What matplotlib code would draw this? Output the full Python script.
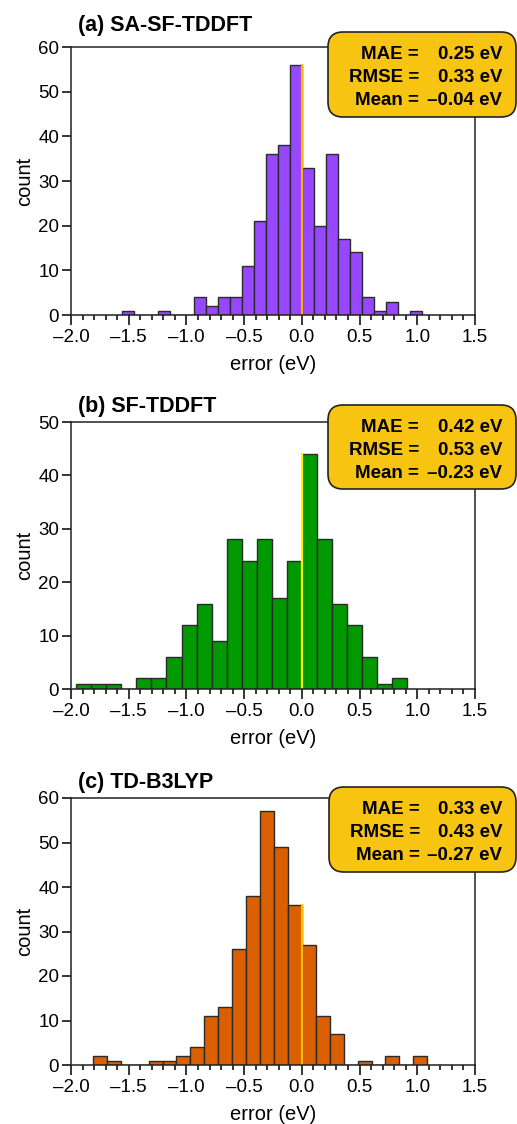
import numpy as np
import matplotlib.pyplot as plt
from matplotlib.patches import FancyBboxPatch
from matplotlib.ticker import MultipleLocator

plt.rcParams['font.family'] = ['Liberation Sans', 'DejaVu Sans']

# histogram data (bin index k -> edge k*width)
titles = ['(a) SA-SF-TDDFT', '(b) SF-TDDFT', '(c) TD-B3LYP']
bin_width = [0.1039, 0.1303, 0.1207]
first_bin = [-15, -15, -15]
counts_a = [1, 0, 0, 1, 0, 0, 4, 2, 4, 4, 11, 21, 36, 38, 56,
            33, 20, 36, 17, 14, 4, 1, 3, 0, 1]
counts_b = [1, 1, 1, 0, 2, 2, 6, 12, 16, 9, 28, 24, 28, 17, 24,
            44, 28, 16, 12, 6, 1, 2]
counts_c = [2, 1, 0, 0, 1, 1, 2, 4, 11, 13, 26, 38, 57, 49, 36,
            27, 11, 7, 0, 1, 0, 2, 0, 2]
all_counts = [counts_a, counts_b, counts_c]
mae = [0.25, 0.42, 0.33]
rmse = [0.33, 0.53, 0.43]
mean = [-0.04, -0.23, -0.27]
ymax = [60, 50, 60]

bar_colors = ['#9747FF', '#009A00', '#D95F00']
zero_colors = ['#FFB000', '#FFF200', '#FFC000']

W, H = 517, 1124
fig = plt.figure(figsize=(W / 100, H / 100), dpi=100)

# axes boxes in pixels: left, top, right, bottom
ax_px = [(71, 47, 475, 315), (71, 422, 475, 689), (71, 798, 475, 1065)]
title_gap = [16, 10, 10]
box_px = [(328, 32, 516, 117), (328, 405, 516, 489), (329, 787, 516, 872)]

for i in range(3):
    l, t, r, b = ax_px[i]
    ax = fig.add_axes([l / W, 1 - b / H, (r - l) / W, (b - t) / H])
    counts = np.array(all_counts[i])
    w = bin_width[i]
    left = (first_bin[i] + np.arange(len(counts))) * w
    ax.bar(left, counts, width=w, align='edge', color=bar_colors[i],
           edgecolor='#2a2a2a', linewidth=1.0, zorder=2)

    # line at zero error, up to the taller neighbour bar
    k0 = -first_bin[i]
    h0 = max(counts[k0 - 1], counts[k0])
    ax.plot([0, 0], [0, h0], color=zero_colors[i], lw=1.6, zorder=3)

    ax.set_xlim(-2.0, 1.5)
    ax.set_ylim(0, ymax[i])
    ax.xaxis.set_major_locator(MultipleLocator(0.5))
    ax.xaxis.set_minor_locator(MultipleLocator(0.1))
    ax.yaxis.set_major_locator(MultipleLocator(10))
    ax.xaxis.set_major_formatter(plt.FuncFormatter(lambda v, p: f'{v:.1f}'.replace('-', '\u2013')))
    ax.tick_params(axis='x', which='major', length=7.4, width=1.1, labelsize=13.5, pad=3, direction='out')
    ax.tick_params(axis='x', which='minor', length=3.8, width=1.1, direction='out')
    ax.tick_params(axis='y', which='major', length=6.5, width=1.1, labelsize=13.5, pad=2, direction='out')
    for s in ax.spines.values():
        s.set_linewidth(1.1)
        s.set_color('#222222')
        s.set_zorder(4)

    ax.set_xlabel('error (eV)', fontsize=14.5, labelpad=6)
    ax.set_ylabel('count', fontsize=14.5, labelpad=3)
    ax.text(78 / W, 1 - (t - title_gap[i]) / H, titles[i], transform=fig.transFigure,
            fontsize=15.5, fontweight='bold', va='baseline', ha='left')

    # stats box
    bl, bt, br, bb = box_px[i]
    box = FancyBboxPatch((bl / 100, (H - bb) / 100), (br - bl) / 100, (bb - bt) / 100,
                         boxstyle='round,pad=0,rounding_size=0.15',
                         transform=fig.dpi_scale_trans, facecolor='#F8C412',
                         edgecolor='#222222', linewidth=1.2, zorder=10, clip_on=False)
    fig.add_artist(box)
    labels = ['MAE =', 'RMSE =', 'Mean =']
    vals = [mae[i], rmse[i], mean[i]]
    for j in range(3):
        yb = 1 - (bt + 27 + 23 * j) / H
        vs = f'{vals[j]:.2f} eV'.replace('-', '\u2013')
        fig.text((bl + 91) / W, yb, labels[j], ha='right', va='baseline',
                 fontsize=13.5, fontweight='bold', zorder=11)
        fig.text((br - 14) / W, yb, vs, ha='right', va='baseline',
                 fontsize=13.5, fontweight='bold', zorder=11)

fig.savefig('out.png', dpi=100)
